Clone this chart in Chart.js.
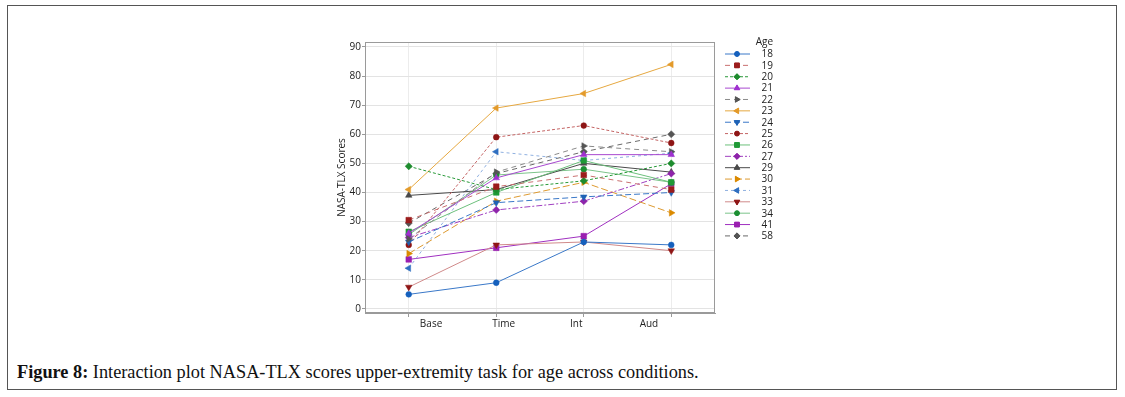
<!DOCTYPE html>
<html>
<head>
<meta charset="utf-8">
<script src="https://cdn.jsdelivr.net/npm/chart.js"></script>
<style>
  html, body { margin: 0; padding: 0; background: #fff; }
  body { width: 1125px; height: 397px; position: relative; overflow: hidden; }
  #frame { position: absolute; left: 7px; top: 5px; width: 1110px; height: 385px; border: 1px solid #555; box-sizing: border-box; }
  #wrap { position: absolute; left: 330px; top: 35px; width: 480px; height: 305px; }
  #caption { position: absolute; left: 17px; top: 362px; font-family: "Liberation Serif", "DejaVu Serif", serif; font-size: 18.3px; color: #111; white-space: nowrap; }
  #caption b { font-weight: bold; }
</style>
</head>
<body>
<div id="frame"></div>
<div id="wrap"><canvas id="grafico"></canvas></div>
<div id="caption"><b>Figure 8:</b> Interaction plot NASA-TLX scores upper-extremity task for age across conditions.</div>
<script>
// categorias (condicoes) e idades
const condicoes = ['Base', 'Time', 'Int', 'Aud'];
const idades = ['18', '19', '20', '21', '22', '23', '24', '25', '26', '27', '29', '30', '31', '33', '34', '41', '58'];
const yTicks = [0, 10, 20, 30, 40, 50, 60, 70, 80, 90];

// NASA-TLX por idade: Base, Time, Int, Aud
const age18 = [5, 9, 23, 22];
const age19 = [30.5, 42, 46, 41];
const age20 = [49, 41, 44, 50];
const age21 = [26, 45, 53, 53];
const age22 = [24, 47, 56, 54];
const age23 = [41, 69, 74, 84];
const age24 = [23, 36.5, 38.5, 40];
const age25 = [22, 59, 63, 57];
const age26 = [26.5, 40, 51, 43.5];
const age27 = [24.5, 34, 37, 46.5];
const age29 = [39, 41, 50, 47];
const age30 = [19, 37, 43.5, 33];
const age31 = [14, 54, 51, 53.5];
const age33 = [7.5, 22, 23, 20];
const age34 = [25.5, 46, 48, 43.5];
const age41 = [17, 21, 25, 43];
const age58 = [29.5, 46.5, 54, 60];

const valores = [age18, age19, age20, age21, age22, age23, age24, age25, age26, age27, age29, age30, age31, age33, age34, age41, age58];

// estilo de cada serie (cor do marcador, cor da linha, tracejado, simbolo, rotacao)
const estilos = [
    { cor: '#1560bd', linha: '#3a78c8', dash: [], ponto: 'circle', rot: 0 },
    { cor: '#9b1c1c', linha: '#c97070', dash: [5, 4], ponto: 'rect', rot: 0 },
    { cor: '#1e8c2e', linha: '#2a9a3a', dash: [3, 2], ponto: 'rectRot', rot: 0 },
    { cor: '#a030d0', linha: '#a848d0', dash: [], ponto: 'triangle', rot: 0 },
    { cor: '#555555', linha: '#8a8a8a', dash: [5, 4], ponto: 'triangle', rot: 90 },
    { cor: '#e39a2a', linha: '#e6a840', dash: [], ponto: 'triangle', rot: -90 },
    { cor: '#1f62b5', linha: '#3a78c8', dash: [6, 3], ponto: 'triangle', rot: 180 },
    { cor: '#8e1515', linha: '#c46464', dash: [3, 2], ponto: 'circle', rot: 0 },
    { cor: '#1f9a36', linha: '#6cc07c', dash: [], ponto: 'rect', rot: 0 },
    { cor: '#8e24aa', linha: '#a040c0', dash: [6, 2, 2, 2], ponto: 'rectRot', rot: 0 },
    { cor: '#4a4a4a', linha: '#4a4a4a', dash: [], ponto: 'triangle', rot: 0 },
    { cor: '#db8a00', linha: '#dd9a30', dash: [7, 3], ponto: 'triangle', rot: 90 },
    { cor: '#2f6fc0', linha: '#8fb0e0', dash: [3, 3], ponto: 'triangle', rot: -90 },
    { cor: '#8e1515', linha: '#d08a8a', dash: [], ponto: 'triangle', rot: 180 },
    { cor: '#1b8f32', linha: '#7cc48a', dash: [], ponto: 'circle', rot: 0 },
    { cor: '#9a1fb0', linha: '#a030c0', dash: [], ponto: 'rect', rot: 0 },
    { cor: '#555555', linha: '#6a6a6a', dash: [5, 4], ponto: 'rectRot', rot: 0 }
];

// tamanho do marcador por simbolo
const raio = { circle: 2.9, rect: 4, rectRot: 3.6, triangle: 3.8 };

const fonte = "'Open Sans', 'Noto Sans', sans-serif";

function desenharMarcador(ctx, estilo, x, y, r) {
    if (Chart.helpers && Chart.helpers.drawPoint) {
        ctx.fillStyle = estilo.cor;
        ctx.strokeStyle = estilo.cor;
        ctx.lineWidth = 1;
        ctx.setLineDash([]);
        Chart.helpers.drawPoint(ctx, { pointStyle: estilo.ponto, radius: r, rotation: estilo.rot, borderWidth: 1 }, x, y);
        ctx.fill();
    }
}

// legenda com linha + marcador
const legendaIdade = {
    id: 'legendaIdade',
    afterDraw(chart) {
        const ctx = chart.ctx;
        const xLinha0 = 395, xLinha1 = 420, xPonto = 407, xTexto = 443;
        ctx.save();
        ctx.font = '10px ' + fonte;
        ctx.fillStyle = '#222';
        ctx.textAlign = 'right';
        ctx.textBaseline = 'middle';
        ctx.fillText('Age', xTexto, 7);

        idades.forEach((idade, i) => {
            const y = 19 + i * 11.37;
            const e = estilos[i];
            ctx.beginPath();
            ctx.strokeStyle = e.linha;
            ctx.lineWidth = 1;
            ctx.setLineDash(e.dash);
            ctx.moveTo(xLinha0, y);
            ctx.lineTo(xLinha1, y);
            ctx.stroke();
            ctx.setLineDash([]);
            desenharMarcador(ctx, e, xPonto, y, raio[e.ponto] * 0.85);
            ctx.fillStyle = '#222';
            ctx.fillText(idade, xTexto, y + 0.5);
        });
        ctx.restore();
    }
};

// rotulos do eixo x: no original ficam um pouco "puxados" para o centro
const rotulosX = {
    id: 'rotulosX',
    afterDraw(chart) {
        const ctx = chart.ctx;
        const escala = chart.scales.x;
        const a = chart.chartArea;
        const centro = (a.left + a.right) / 2;
        ctx.save();
        ctx.font = '10px ' + fonte;
        ctx.fillStyle = '#222';
        ctx.textAlign = 'center';
        ctx.textBaseline = 'top';
        condicoes.forEach((c, i) => {
            const px = escala.getPixelForValue(i);
            ctx.fillText(c, centro + (px - centro) * 0.83, a.bottom + 6);
        });
        ctx.restore();
    }
};

const datasets = idades.map((idade, i) => ({
    label: idade,
    data: valores[i],
    borderColor: estilos[i].linha,
    borderWidth: 1,
    borderDash: estilos[i].dash,
    pointStyle: estilos[i].ponto,
    pointRotation: estilos[i].rot,
    pointRadius: raio[estilos[i].ponto],
    pointBackgroundColor: estilos[i].cor,
    pointBorderColor: estilos[i].cor,
    pointBorderWidth: 0.5,
    tension: 0,
    fill: false
}));

const contexto = document.getElementById('grafico').getContext('2d');

new Chart(contexto, {
    type: 'line',
    data: { labels: condicoes, datasets: datasets },
    options: {
        responsive: true,
        maintainAspectRatio: false,
        animation: false,
        layout: { padding: { left: 0, top: 3, right: 95, bottom: 0 } },
        plugins: {
            legend: { display: false },
            tooltip: { enabled: false }
        },
        scales: {
            x: {
                type: 'category',
                offset: true,
                border: { display: true, color: '#9a9a9a', width: 1 },
                grid: { offset: false, color: '#ececec', tickColor: '#9a9a9a', tickLength: 4, drawTicks: true },
                ticks: { color: 'rgba(0,0,0,0)', font: { size: 10, family: fonte }, padding: 3, maxRotation: 0 },
                afterFit(scale) { scale.height = 27; }
            },
            y: {
                min: -1.4,
                max: 91.7,
                border: { display: true, color: '#9a9a9a', width: 1 },
                grid: { color: '#e3e3e3', tickColor: '#9a9a9a', tickLength: 3 },
                ticks: { color: '#222', font: { size: 10, family: fonte }, padding: 1 },
                title: { display: true, text: 'NASA-TLX Scores', color: '#222', font: { size: 10, family: fonte }, padding: { top: 6, bottom: 0 } },
                afterBuildTicks(scale) { scale.ticks = yTicks.map(v => ({ value: v })); },
                afterFit(scale) { scale.width = 35; }
            }
        }
    },
    plugins: [legendaIdade, rotulosX, {
        id: 'bordaPlot',
        afterDraw(chart) {
            const a = chart.chartArea;
            const ctx = chart.ctx;
            ctx.save();
            ctx.strokeStyle = '#9a9a9a';
            ctx.lineWidth = 1;
            ctx.strokeRect(a.left + 0.5, a.top + 0.5, a.right - a.left - 1, a.bottom - a.top - 1);
            ctx.restore();
        }
    }]
});
</script>
</body>
</html>
